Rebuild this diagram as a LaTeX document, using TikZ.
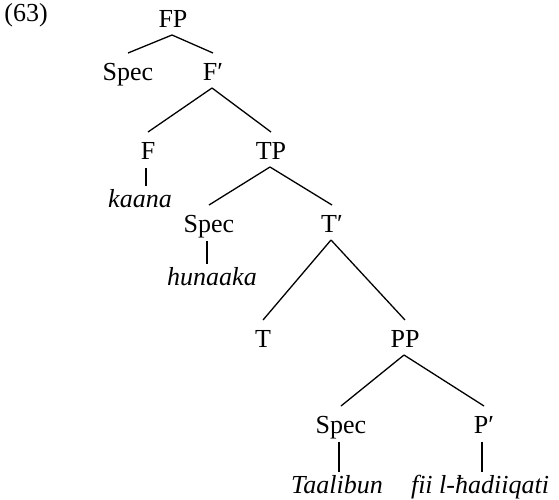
\documentclass[tikz,border=0pt]{standalone}
\usepackage{fontspec}
\setmainfont{Liberation Serif}
\usetikzlibrary{calc}
\tikzset{
  lbl/.style={anchor=base, inner sep=0pt, font=\fontsize{26}{30}\selectfont},
  wrd/.style={lbl, font=\fontsize{26}{30}\selectfont\itshape},
  br/.style={line width=1.3pt},
}
\newcommand\treeedge[2]{\draw[br] ($(#1.base)+(-1,8)$) -- ($(#2.base)+(0,-27)$);}
\newcommand\leafedge[2]{\draw[br] ($(#1.base)+(-2,9)$) -- ($(#1.base |- #2.base)+(-2,-21)$);}
\begin{document}
\begin{tikzpicture}[x=1pt,y=-1pt]
\useasboundingbox (0,0) rectangle (559,499);
\node[lbl] (ex) at (26,21) {(63)};
\node[lbl] (FP) at (173,27) {FP};
\node[lbl] (S1) at (128,80) {Spec};
\node[lbl] (Fb) at (213,80) {F′};
\node[lbl] (F) at (148,159) {F};
\node[lbl] (TP) at (271,159) {TP};
\node[wrd] (kaana) at (140,207) {kaana};
\node[lbl] (S2) at (209,232) {Spec};
\node[lbl] (Tb) at (332,232) {T′};
\node[wrd] (hun) at (212,285) {hunaaka};
\node[lbl] (T) at (263,347) {T};
\node[lbl] (PP) at (405,347) {PP};
\node[lbl] (S3) at (341,433) {Spec};
\node[lbl] (Pb) at (484,433) {P′};
\node[wrd] (taal) at (337,493) {Taalibun};
\node[wrd] (fii) at (480,493) {fii l-ħadiiqati};
\treeedge{FP}{S1}
\treeedge{FP}{Fb}
\treeedge{Fb}{F}
\treeedge{Fb}{TP}
\leafedge{F}{kaana}
\treeedge{TP}{S2}
\treeedge{TP}{Tb}
\leafedge{S2}{hun}
\treeedge{Tb}{T}
\treeedge{Tb}{PP}
\treeedge{PP}{S3}
\treeedge{PP}{Pb}
\leafedge{S3}{taal}
\leafedge{Pb}{fii}
\end{tikzpicture}
\end{document}
